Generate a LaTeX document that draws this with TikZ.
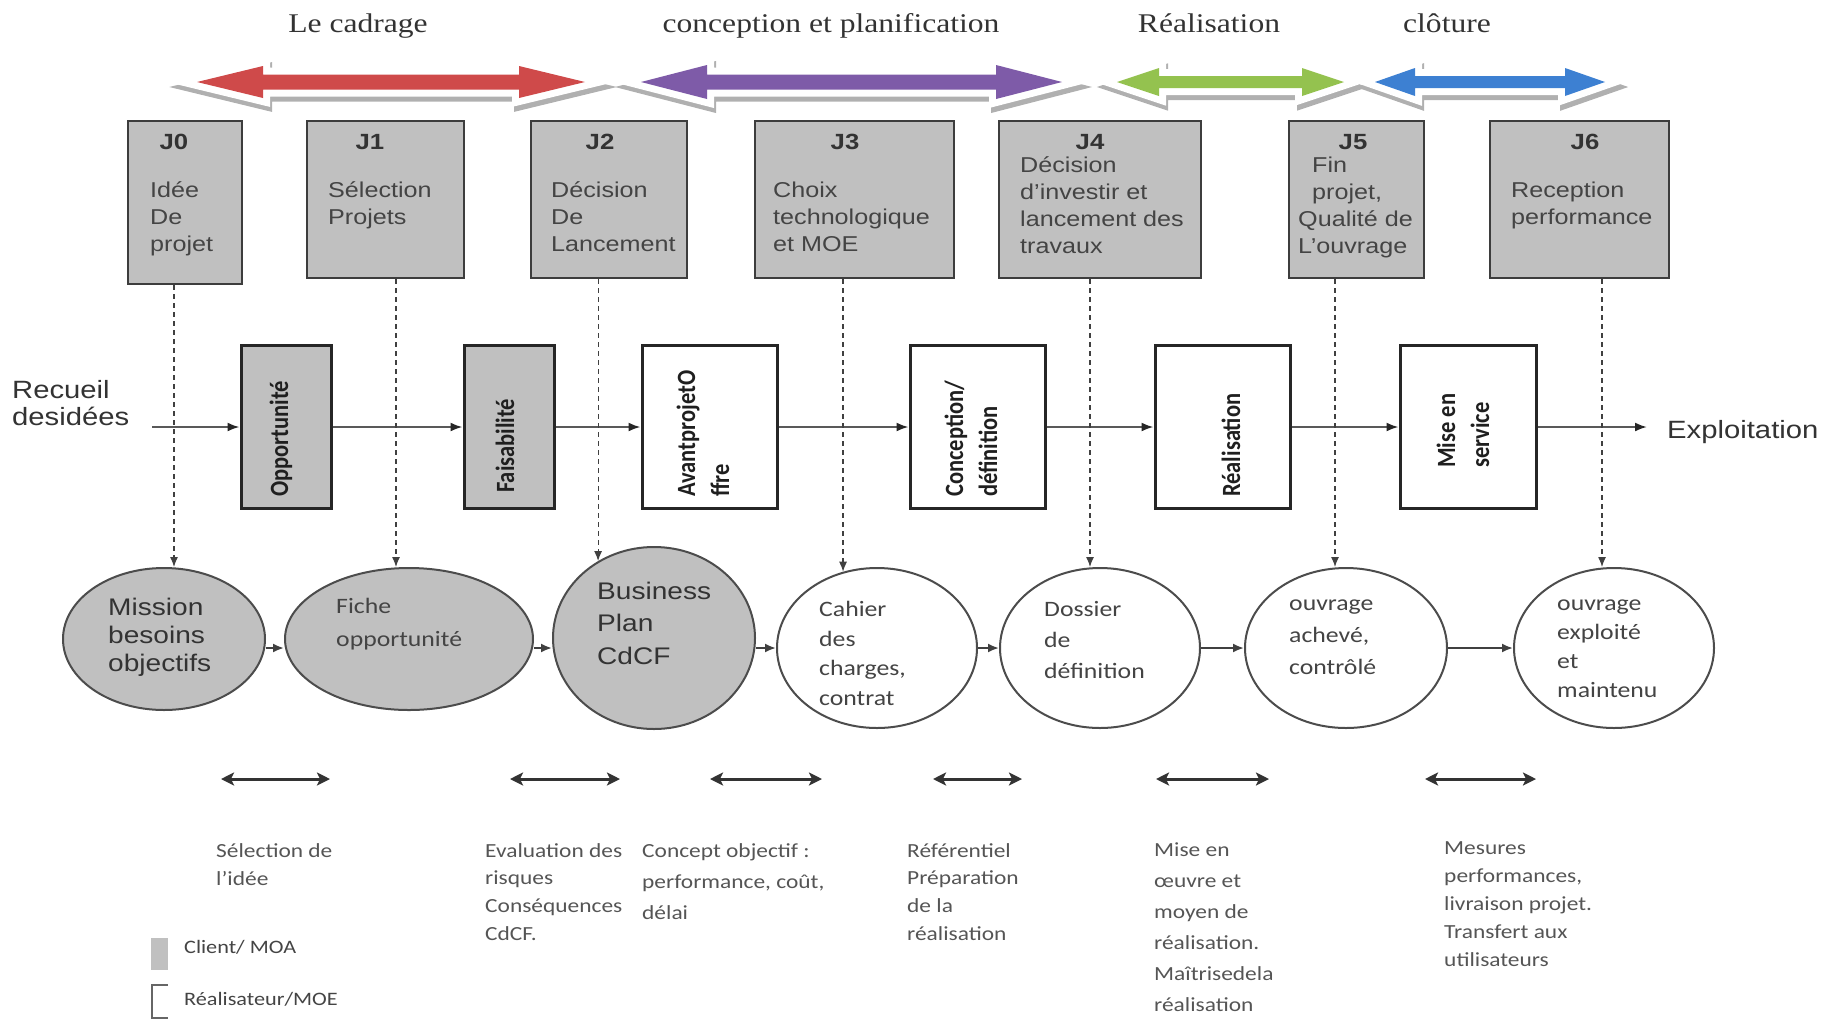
\documentclass[tikz,border=0pt]{standalone}
\usepackage{fontspec}
\usetikzlibrary{arrows.meta,shapes.geometric}
\newfontfamily\fA{Liberation Sans}[FakeStretch=1.17]
\newfontfamily\fC{Carlito}[FakeStretch=1.17]
\newfontfamily\fCb{Carlito}
\newfontfamily\fS{Liberation Serif}[FakeStretch=1.17]
\newcommand\fsz[2]{\fontsize{#1}{#2}\selectfont}
\definecolor{boxgray}{HTML}{C0C0C0}
\definecolor{edgedark}{HTML}{3D3D3D}
\definecolor{inkdark}{HTML}{333333}
\definecolor{inkmid}{HTML}{444444}
\definecolor{inksoft}{HTML}{555555}
\definecolor{shadowgray}{HTML}{B0B0B0}
\definecolor{phred}{HTML}{CF4A4A}
\definecolor{phpurple}{HTML}{7E5BA8}
\definecolor{phgreen}{HTML}{94C24F}
\definecolor{phblue}{HTML}{3D80D2}
% double-headed phase arrow: #1 left tip x, #2 right tip x, #3 head length,
% #4 head half height, #5 shaft half height, #6 colour
\newcommand\phasearrow[6]{%
  \begin{scope}[line join=miter]
    \filldraw[shadowgray, line width=14pt, shift={(2,5)}]
      (#1,82) -- ({#1+#3},{82-#4}) -- ({#1+#3},{82-#5}) -- ({#2-#3},{82-#5}) -- ({#2-#3},{82-#4})
      -- (#2,82) -- ({#2-#3},{82+#4}) -- ({#2-#3},{82+#5}) -- ({#1+#3},{82+#5}) -- ({#1+#3},{82+#4}) -- cycle;
    \filldraw[white, line width=14pt]
      (#1,82) -- ({#1+#3},{82-#4}) -- ({#1+#3},{82-#5}) -- ({#2-#3},{82-#5}) -- ({#2-#3},{82-#4})
      -- (#2,82) -- ({#2-#3},{82+#4}) -- ({#2-#3},{82+#5}) -- ({#1+#3},{82+#5}) -- ({#1+#3},{82+#4}) -- cycle;
    \fill[#6]
      (#1,82) -- ({#1+#3},{82-#4}) -- ({#1+#3},{82-#5}) -- ({#2-#3},{82-#5}) -- ({#2-#3},{82-#4})
      -- (#2,82) -- ({#2-#3},{82+#4}) -- ({#2-#3},{82+#5}) -- ({#1+#3},{82+#5}) -- ({#1+#3},{82+#4}) -- cycle;
  \end{scope}}
\begin{document}
\begin{tikzpicture}[x=1pt,y=-1pt,
  jbox/.style={rectangle, draw=edgedark, line width=2.5pt, fill=boxgray, inner sep=0pt},
  pbox/.style={rectangle, draw=black!85, line width=3pt, fill=white, inner sep=0pt, minimum height=163pt},
  pboxg/.style={pbox, fill=boxgray},
  ell/.style={ellipse, draw=black!70, line width=2pt, fill=white, inner sep=0pt},
  ellg/.style={ell, fill=boxgray},
  blk/.style={anchor=north west, inner sep=0pt, align=left, execute at begin node={\rule{0pt}{0.85em}}},
  jtxt/.style={blk, font=\fA\fsz{21.5}{27}, text=inkmid},
  jlab/.style={anchor=base, inner sep=0pt, font=\fA\bfseries\fsz{22}{26}, text=inkdark},
  ttl/.style={anchor=base, inner sep=0pt, font=\fS\fsz{27}{30}, text=inkdark},
  rlab/.style={rotate=90, yscale=1.17, anchor=west, align=left, inner sep=0pt, font=\fCb\bfseries\fsz{22.5}{29}, text=black!88},
  etxtA/.style={blk, text=inkdark},
  etxtC/.style={blk, text=inkmid},
  btxt/.style={blk, text=inksoft},
  lgtxt/.style={anchor=base west, inner sep=0pt, font=\fC\fsz{19}{22}, text=inkmid},
  flowar/.style={draw=black!65, line width=2pt, -{Latex[length=12pt,width=9pt,color=black!85]}},
  dashar/.style={draw=black!75, line width=1.2pt, dash pattern=on 5pt off 4pt, -{Latex[length=10pt,width=8pt]}},
  ellar/.style={draw=black!75, line width=2pt, -{Latex[length=11pt,width=9pt]}},
  dblar/.style={draw=black!80, line width=3pt, {Stealth[length=13pt,width=13pt,inset=3pt]}-{Stealth[length=13pt,width=13pt,inset=3pt]}}
]
\useasboundingbox (0,0) rectangle (1832,1021);

% ---- phases ----
\phasearrow{197}{585}{66}{16}{7.5}{phred}
\phasearrow{641}{1062}{66}{17}{7.5}{phpurple}
\phasearrow{1117}{1344}{42}{14}{6}{phgreen}
\phasearrow{1375}{1605}{40}{14}{6}{phblue}
\node[ttl] (t1) at (358,32) {Le cadrage};
\node[ttl] (t2) at (831,32) {conception et planification};
\node[ttl] (t3) at (1209,32) {Réalisation};
\node[ttl] (t4) at (1447,32) {clôture};

% ---- milestones J0..J6 ----
\node[jbox, minimum width=114pt, minimum height=163pt] (J0) at (185,202.5) {};
\node[jbox, minimum width=157pt, minimum height=157pt] (J1) at (385.5,199.5) {};
\node[jbox, minimum width=156pt, minimum height=157pt] (J2) at (609,199.5) {};
\node[jbox, minimum width=199pt, minimum height=157pt] (J3) at (854.5,199.5) {};
\node[jbox, minimum width=202pt, minimum height=157pt] (J4) at (1100,199.5) {};
\node[jbox, minimum width=135pt, minimum height=157pt] (J5) at (1356.5,199.5) {};
\node[jbox, minimum width=179pt, minimum height=157pt] (J6) at (1579.5,199.5) {};

\node[jlab] (J0l) at (174,149) {J0};
\node[jlab] (J1l) at (370,149) {J1};
\node[jlab] (J2l) at (600,149) {J2};
\node[jlab] (J3l) at (845,149) {J3};
\node[jlab] (J4l) at (1090,149) {J4};
\node[jlab] (J5l) at (1353,149) {J5};
\node[jlab] (J6l) at (1585,149) {J6};

\node[jtxt] (J0t) at (150,181.7) {Idée\\De\\projet};
\node[jtxt] (J1t) at (328,181.7) {Sélection\\Projets};
\node[jtxt] (J2t) at (551,181.7) {Décision\\De\\Lancement};
\node[jtxt] (J3t) at (773,181.7) {Choix\\technologique\\et MOE};
\node[jtxt] (J4t) at (1020,156.7) {Décision\\d’investir et\\lancement des\\travaux};
\node[jtxt] (J5t) at (1298,156.7) {\hspace*{14pt}Fin\\\hspace*{14pt}projet,\\Qualité de\\L’ouvrage};
\node[jtxt] (J6t) at (1511,181.7) {Reception\\performance};

% ---- process chain ----
\node[pboxg, minimum width=90pt] (P1) at (286,427) {};
\node[pboxg, minimum width=90pt] (P2) at (509,427) {};
\node[pbox, minimum width=135pt] (P3) at (709.5,427) {};
\node[pbox, minimum width=135pt] (P4) at (977.5,427) {};
\node[pbox, minimum width=135pt] (P5) at (1222.5,427) {};
\node[pbox, minimum width=136pt] (P6) at (1468,427) {};

\node[rlab] (P1t) at (281,497) {Opportunité};
\node[rlab] (P2t) at (505,493) {Faisabilité};
\node[rlab] (P3t) at (703,497) {AvantprojetO\\ffre};
\node[rlab] (P4t) at (971,497) {Conception/\\définition};
\node[rlab] (P5t) at (1231,497) {Réalisation};
\node[rlab] (P6t) at (1463,468) {Mise en\\service};

\node[blk, font=\fA\fsz{25}{27}, text=inkdark] (rec) at (12,379.75) {Recueil\\desidées};
\node[anchor=base west, inner sep=0pt, font=\fA\fsz{25}{27}, text=inkdark] (expl) at (1667,438) {Exploitation};
\coordinate (fstart) at (152,427);
\coordinate (fend) at (1647,427);

\draw[flowar] (fstart) -- (fstart -| P1.west);
\draw[flowar] (P1.east) -- (P2.west);
\draw[flowar] (P2.east) -- (P3.west);
\draw[flowar] (P3.east) -- (P4.west);
\draw[flowar] (P4.east) -- (P5.west);
\draw[flowar] (P5.east) -- (P6.west);
\draw[flowar] (P6.east) -- (fend);

% ---- deliverables ----
\node[ellg, minimum width=202pt, minimum height=142pt] (E0) at (164,639) {};
\node[ellg, minimum width=248pt, minimum height=142pt] (E1) at (409,639) {};
\node[ellg, minimum width=202pt, minimum height=182pt] (E2) at (654,638) {};
\node[ell, minimum width=200pt, minimum height=160pt] (E3) at (877,648) {};
\node[ell, minimum width=200pt, minimum height=160pt] (E4) at (1100,648) {};
\node[ell, minimum width=202pt, minimum height=160pt] (E5) at (1346,648) {};
\node[ell, minimum width=200pt, minimum height=160pt] (E6) at (1614,648) {};

\node[etxtA, font=\fA\fsz{24}{28}] (E0t) at (108,597.6) {Mission\\besoins\\objectifs};
\node[etxtC, font=\fC\fsz{22}{33}] (E1t) at (336,598.3) {Fiche\\opportunité};
\node[etxtA, font=\fA\fsz{24}{32.5}] (E2t) at (597,581.6) {Business\\Plan\\CdCF};
\node[etxtC, font=\fC\fsz{22}{29.5}] (E3t) at (819,601.3) {Cahier\\des\\charges,\\contrat};
\node[etxtC, font=\fC\fsz{22}{31}] (E4t) at (1044,601.3) {Dossier\\de\\définition};
\node[etxtC, font=\fC\fsz{22}{32}] (E5t) at (1289,599.3) {ouvrage\\achevé,\\contrôlé};
\node[etxtC, font=\fC\fsz{22}{29}] (E6t) at (1557,599.3) {ouvrage\\exploité\\et\\maintenu};

\draw[ellar] ([yshift=-9pt]E0.east) -- ([yshift=-9pt]E0.east -| E1.west);
\draw[ellar] ([yshift=-9pt]E1.east) -- ([yshift=-9pt]E1.east -| E2.west);
\draw[ellar] (E2.east |- E3.west) -- (E3.west);
\draw[ellar] (E3.east) -- (E4.west);
\draw[ellar] (E4.east) -- (E5.west);
\draw[ellar] (E5.east) -- (E6.west);

% ---- milestone to deliverable links ----
\draw[dashar] ([xshift=10pt]E0.north |- J0.south) -- ([xshift=10pt]E0.north);
\draw[dashar] ([xshift=-13pt]E1.north |- J1.south) -- ([xshift=-13pt]E1.north);
\draw[dashar] (E2.126 |- J2.south) -- (E2.126);
\draw[dashar] (E3.114 |- J3.south) -- (E3.114);
\draw[dashar] ([xshift=-10pt]E4.north |- J4.south) -- ([xshift=-10pt]E4.north);
\draw[dashar] ([xshift=-11pt]E5.north |- J5.south) -- ([xshift=-11pt]E5.north);
\draw[dashar] ([xshift=-12pt]E6.north |- J6.south) -- ([xshift=-12pt]E6.north);

% ---- spans and their notes ----
\coordinate (s1a) at (221,779);  \coordinate (s1b) at (330,779);
\coordinate (s2a) at (510,779);  \coordinate (s2b) at (620,779);
\coordinate (s3a) at (710,779);  \coordinate (s3b) at (822,779);
\coordinate (s4a) at (933,779);  \coordinate (s4b) at (1022,779);
\coordinate (s5a) at (1156,779); \coordinate (s5b) at (1269,779);
\coordinate (s6a) at (1425,779); \coordinate (s6b) at (1536,779);
\draw[dblar] (s1a) -- (s1b);
\draw[dblar] (s2a) -- (s2b);
\draw[dblar] (s3a) -- (s3b);
\draw[dblar] (s4a) -- (s4b);
\draw[dblar] (s5a) -- (s5b);
\draw[dblar] (s6a) -- (s6b);

\node[btxt, font=\fC\fsz{20}{28}] (n1) at (216,843) {Sélection de\\l’idée};
\node[btxt, font=\fC\fsz{20}{27.7}] (n2) at (485,843) {Evaluation des\\risques\\Conséquences\\CdCF.};
\node[btxt, font=\fC\fsz{20}{31}] (n3) at (642,843) {Concept objectif :\\performance, coût,\\délai};
\node[btxt, font=\fC\fsz{20}{27.7}] (n4) at (907,843) {Référentiel\\Préparation\\de la\\réalisation};
\node[btxt, font=\fC\fsz{20}{31}] (n5) at (1154,843) {Mise en\\œuvre et\\moyen de\\réalisation.\\Maîtrisedela\\réalisation};
\node[btxt, font=\fC\fsz{20}{28}] (n6) at (1444,841) {Mesures\\performances,\\livraison projet.\\Transfert aux\\utilisateurs};

% ---- legend ----
\node[fill=boxgray, minimum width=17pt, minimum height=32pt, inner sep=0pt] (lgA) at (159.5,954) {};
\draw[black!60, line width=1.5pt] (168,985) -- (152,985) -- (152,1018) -- (168,1018);
\node[lgtxt] (lgAt) at (184,953) {Client/ MOA};
\node[lgtxt] (lgBt) at (184,1005) {Réalisateur/MOE};
\end{tikzpicture}
\end{document}
